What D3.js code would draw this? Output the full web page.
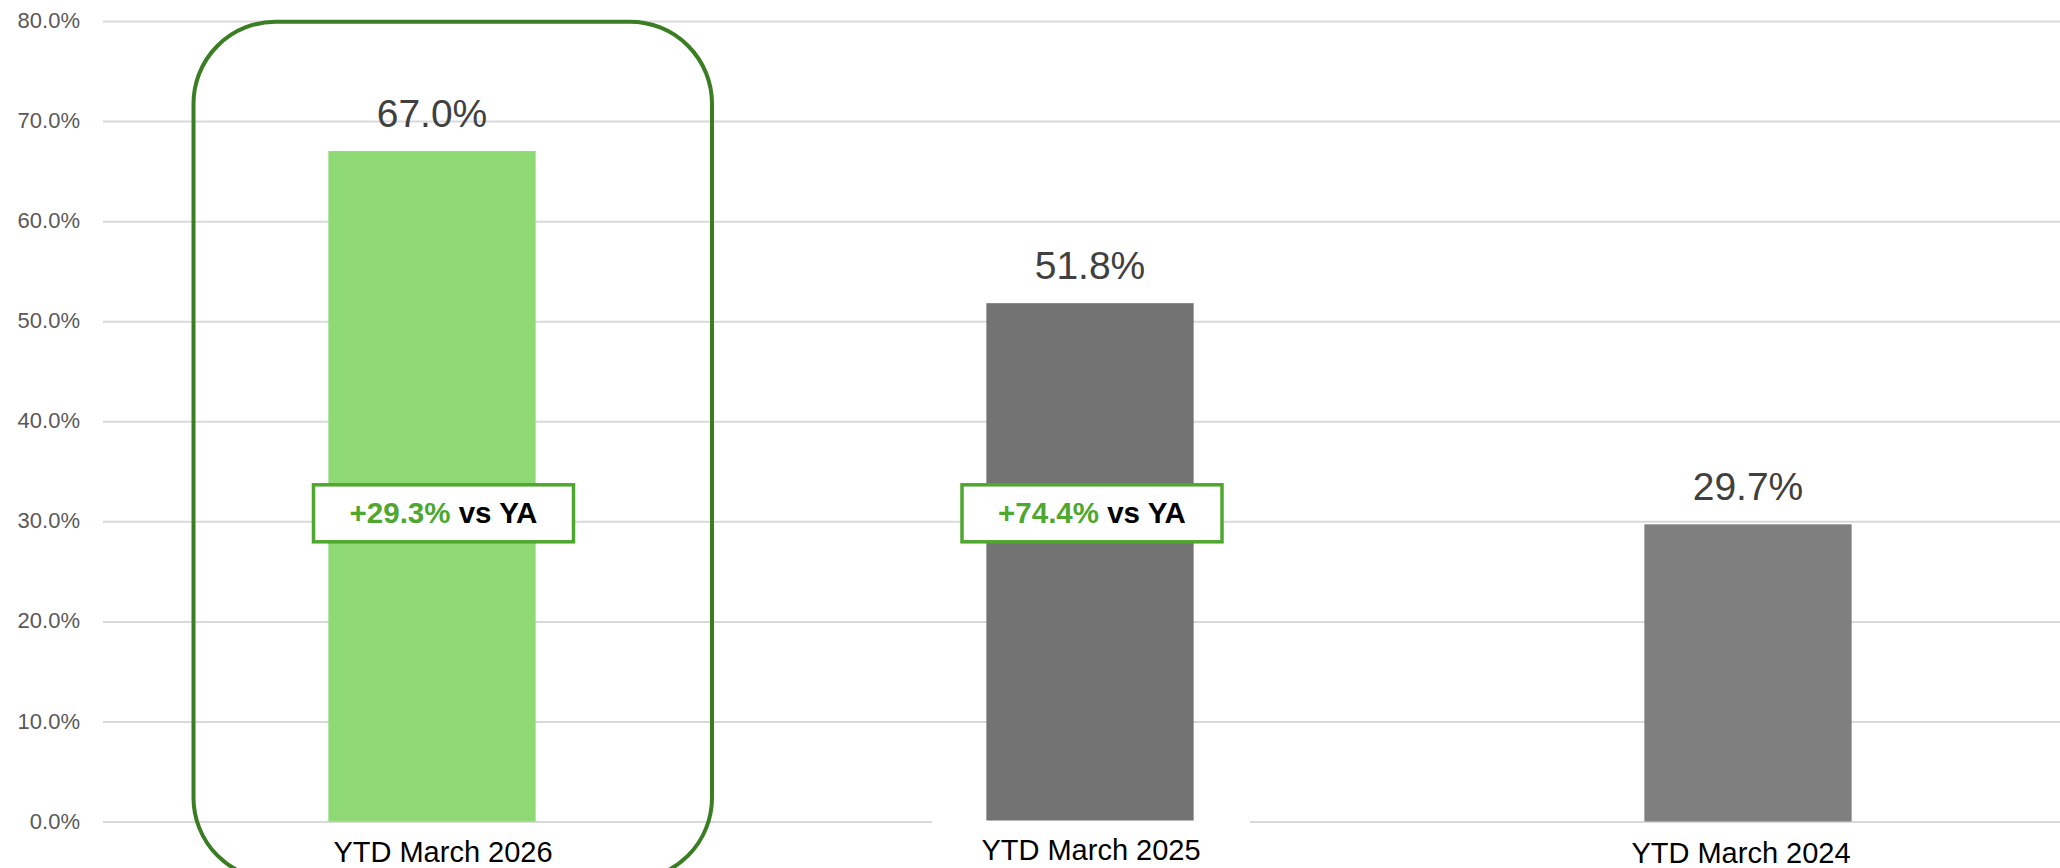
<!DOCTYPE html>
<html>
<head>
<meta charset="utf-8">
<script src="https://cdn.jsdelivr.net/npm/d3@7"></script>
<style>
  html, body { margin: 0; padding: 0; background: #fff; }
  svg { display: block; }
</style>
</head>
<body>
<div id="container"></div>
<script>
// chart values
var categories = ['YTD March 2026', 'YTD March 2025', 'YTD March 2024'];
var values = [0.670, 0.518, 0.297];
var vsYA = [0.293, 0.744, null];
var yTicks = [0, 0.1, 0.2, 0.3, 0.4, 0.5, 0.6, 0.7, 0.8];

var width = 2060, height = 868;
var barFill = ['#8ed973', '#737373', '#7f7f7f'];
var font = '"Liberation Sans", Arial, sans-serif';

var svg = d3.select('#container').append('svg')
    .attr('width', width)
    .attr('height', height);

var x = d3.scaleBand()
    .domain(categories)
    .range([103, 2077])
    .paddingInner(0.685)
    .paddingOuter(0.3425);

var y = d3.scaleLinear()
    .domain([0, 0.8])
    .range([821.5, 21]);

// gridlines + tick labels
var yAxis = d3.axisLeft(y)
    .tickValues(yTicks)
    .tickFormat(d3.format('.1%'))
    .tickSizeInner(-(width - 103))
    .tickSizeOuter(0)
    .tickPadding(23);

var gAxis = svg.append('g')
    .attr('transform', 'translate(103,0)')
    .call(yAxis);
gAxis.select('.domain').remove();
gAxis.selectAll('.tick line')
    .attr('stroke', '#d9d9d9')
    .attr('stroke-width', 2);
gAxis.selectAll('.tick text')
    .attr('fill', '#595959')
    .attr('font-family', font)
    .attr('font-size', 22)
    .attr('dy', '0.3em');

var cx = function (d) { return x(d) + x.bandwidth() / 2; };

// bars
svg.append('g').selectAll('rect')
    .data(categories)
    .enter().append('rect')
    .attr('x', function (d) { return x(d); })
    .attr('y', function (d, i) { return y(values[i]); })
    .attr('width', x.bandwidth())
    .attr('height', function (d, i) { return y(0) - y(values[i]); })
    .attr('fill', function (d, i) { return barFill[i]; });

// value labels
svg.append('g').selectAll('text')
    .data(categories)
    .enter().append('text')
    .attr('x', cx)
    .attr('y', function (d, i) { return y(values[i]) - 24; })
    .attr('text-anchor', 'middle')
    .attr('font-family', font)
    .attr('font-size', 39)
    .attr('fill', '#404040')
    .text(function (d, i) { return d3.format('.1%')(values[i]); });

// category labels (text boxes sit a bit off the bar centres)
var labelDx = [11, 1, -7];
var labelY = [861.5, 860, 862.5];

// the 2025 text box has a white fill that hides the baseline
svg.append('rect')
    .attr('x', cx(categories[1]) + labelDx[1] - 159)
    .attr('y', 820.5)
    .attr('width', 318)
    .attr('height', 48)
    .attr('fill', '#fff');

svg.append('g').selectAll('text')
    .data(categories)
    .enter().append('text')
    .attr('x', function (d, i) { return cx(d) + labelDx[i]; })
    .attr('y', function (d, i) { return labelY[i]; })
    .attr('text-anchor', 'middle')
    .attr('font-family', font)
    .attr('font-size', 29)
    .attr('fill', '#000')
    .text(function (d) { return d; });

// highlight around the current year
var c0 = cx(categories[0]);
svg.append('rect')
    .attr('x', c0 - 238.5)
    .attr('y', y(0.8) + 0.7)
    .attr('width', 518.5)
    .attr('height', 858)
    .attr('rx', 82)
    .attr('fill', 'none')
    .attr('stroke', '#3a7d22')
    .attr('stroke-width', 4);

// vs YA callouts
var boxDx = [11.5, 2];
var boxMid = y(0.308);
var callouts = svg.append('g').selectAll('g')
    .data(categories.filter(function (d, i) { return vsYA[i] != null; }))
    .enter().append('g')
    .attr('transform', function (d, i) {
        return 'translate(' + (cx(d) + boxDx[i]) + ',' + boxMid + ')';
    });

callouts.append('rect')
    .attr('x', -130)
    .attr('y', -28.5)
    .attr('width', 260)
    .attr('height', 57)
    .attr('fill', '#fff')
    .attr('stroke', '#4ea72e')
    .attr('stroke-width', 3.5);

var t = callouts.append('text')
    .attr('y', 10)
    .attr('text-anchor', 'middle')
    .attr('font-family', font)
    .attr('font-size', 29.5)
    .attr('font-weight', 'bold');
t.append('tspan')
    .attr('fill', '#4ea72e')
    .text(function (d, i) { return '+' + d3.format('.1%')(vsYA[i]); });
t.append('tspan')
    .attr('fill', '#000')
    .text(' vs YA');
</script>
</body>
</html>
